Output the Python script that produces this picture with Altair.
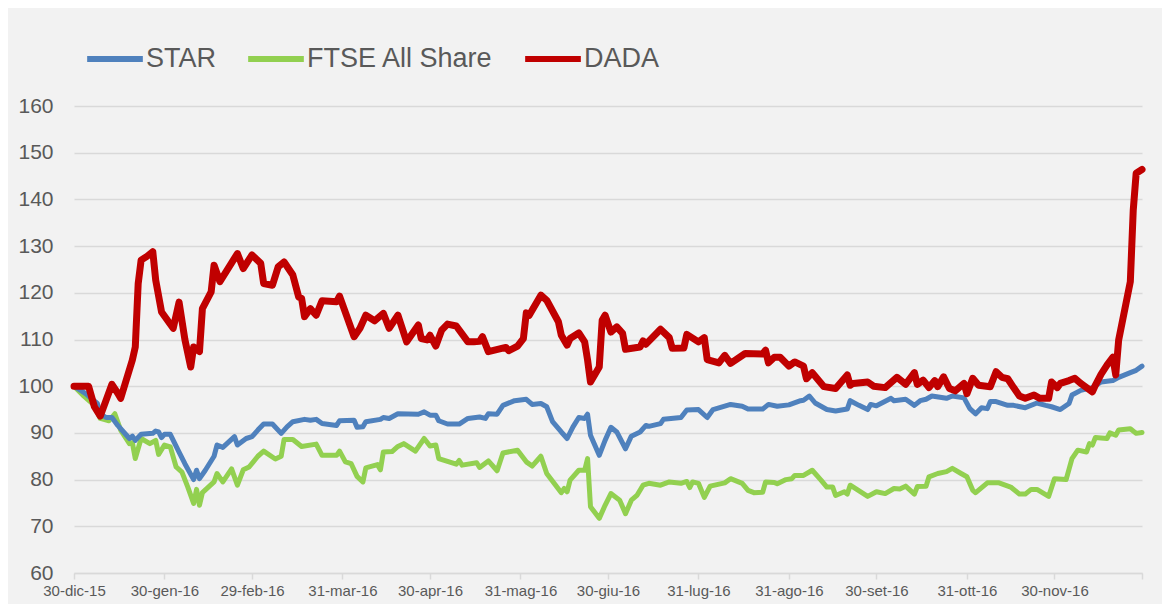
import altair as alt
import pandas as pd

# Series: (days since 30-dic-15, index value)
star = [(0,100),(4,98.4),(8,96.3),(9,94.1),(11,93.3),(13,93.3),(15,91.6),(17,90.2),(19,88.8),(20,89.3),(21,88.4),(23,89.7),(27,89.9),(28,90.4),(29,90.2),(30,89.0),(31,89.7),(33,89.7),(36,85.9),(38,83.4),(41,80.0),(42,82.0),(43,80.2),(45,82.0),(48,85.0),(49,87.4),(51,86.9),(55,89.2),(56,87.4),(59,88.8),(61,89.2),(63,90.6),(65,91.9),(68,91.9),(71,89.9),(73,91.3),(75,92.4),(79,92.9),(81,92.7),(83,92.9),(85,92.0),(90,91.6),(91,92.6),(96,92.7),(97,91.2),(99,91.3),(100,92.4),(105,92.9),(106,93.3),(108,93.1),(111,94.1),(118,94.0),(120,94.5),(122,93.8),(124,93.8),(125,92.6),(128,91.9),(132,91.9),(135,93.1),(139,93.4),(141,93.1),(142,94.1),(145,94.0),(147,95.9),(151,96.9),(155,97.2),(157,96.1),(160,96.3),(162,95.6),(164,92.4),(167,90.2),(169,88.8),(171,91.3),(173,93.3),(175,93.1),(176,94.0),(177,89.5),(180,85.2),(182,88.4),(184,91.2),(186,90.2),(189,86.6),(191,89.3),(194,90.2),(196,91.6),(197,91.4),(201,92.0),(202,92.9),(208,93.3),(210,94.9),(214,95.0),(217,93.3),(219,95.0),(225,96.1),(229,95.7),(231,95.1),(236,95.1),(238,96.1),(241,95.7),(245,96.0),(249,96.9),(250,97.0),(252,97.9),(254,96.4),(258,95.0),(261,94.7),(265,95.1),(266,96.9),(269,95.9),(272,95.0),(273,96.1),(275,95.8),(280,97.4),(281,96.9),(285,97.2),(288,95.9),(290,96.9),(292,97.2),(294,97.9),(299,97.4),(301,97.9),(305,97.5),(307,95.2),(309,94.1),(311,95.4),(313,95.2),(314,96.7),(316,96.7),(320,95.9),(322,95.9),(326,95.4),(330,96.4),(333,95.9),(335,95.6),(338,95.0),(341,96.3),(342,98.1),(345,99.1),(349,99.7),(352,100.9),(356,101.2),(358,101.9),(362,102.9),(364,103.4),(366,104.3)]

ftse = [(0,100),(3,98.1),(7,95.9),(9,93.1),(12,92.6),(14,94.1),(16,90.6),(19,87.7),(20,87.9),(21,84.5),(23,88.8),(26,87.7),(28,88.4),(29,85.4),(31,87.4),(33,87.0),(35,82.7),(37,81.6),(39,78.4),(41,74.9),(42,77.9),(43,74.5),(44,77.2),(48,79.5),(49,81.3),(51,79.5),(54,82.3),(56,78.8),(58,82.1),(60,82.7),(63,85.0),(65,86.1),(69,84.4),(71,85.0),(72,88.6),(75,88.6),(78,87.1),(83,87.6),(85,85.2),(90,85.2),(91,86.1),(93,83.8),(95,83.4),(97,80.7),(99,79.5),(100,82.5),(104,83.2),(105,82.1),(106,85.9),(109,86.0),(111,87.1),(113,87.7),(117,86.1),(120,88.8),(122,87.2),(124,87.4),(125,84.5),(131,83.3),(132,84.1),(133,83.1),(138,83.6),(139,82.6),(142,84.0),(145,81.9),(147,85.7),(152,86.3),(155,83.8),(157,82.9),(160,85.0),(162,81.3),(167,77.2),(168,78.1),(169,77.4),(170,79.9),(173,82.0),(175,82.0),(176,84.5),(177,74.2),(180,71.7),(182,74.5),(184,77.0),(187,75.6),(189,72.7),(191,75.6),(193,76.7),(195,78.8),(197,79.2),(201,78.8),(204,79.5),(208,79.2),(210,79.6),(211,78.3),(212,79.5),(214,79.2),(216,76.2),(218,78.6),(223,79.3),(225,80.2),(229,79.2),(231,77.7),(233,77.2),(236,77.3),(237,79.5),(240,79.4),(241,79.1),(244,80.0),(246,80.2),(247,80.9),(250,80.9),(253,82.0),(256,79.9),(258,78.4),(260,78.4),(261,76.6),(264,77.4),(265,76.9),(266,78.8),(272,76.4),(275,77.4),(278,77.0),(281,78.1),(283,78.0),(285,78.6),(288,76.9),(289,78.5),(292,78.6),(293,80.6),(296,81.3),(299,81.7),(301,82.4),(304,81.3),(306,80.6),(308,77.7),(309,77.2),(313,79.3),(317,79.3),(321,78.4),(324,76.9),(326,76.9),(328,77.9),(330,77.9),(334,76.4),(336,80.2),(340,80.0),(342,84.5),(344,86.3),(347,85.9),(348,87.7),(349,87.4),(350,89.0),(354,88.8),(355,90.0),(357,89.5),(358,90.6),(362,90.9),(364,89.9),(366,90.1)]

dada = [(0,100),(5,100),(7,95.6),(9,93.6),(13,100.4),(15,98.5),(16,97.4),(20,105.6),(21,108.4),(22,122),(23,127),(25,127.8),(27,128.8),(28,122.7),(30,115.9),(34,112.4),(36,118),(38,110),(40,104.1),(41,108.4),(43,107.4),(44,116.6),(47,120.2),(48,125.9),(50,122.4),(56,128.4),(58,125.2),(61,128.1),(64,126.3),(65,122),(68,121.6),(70,125.6),(72,126.6),(75,123.8),(77,119.1),(78,118.8),(79,114.9),(81,116.6),(83,115.2),(85,118.3),(90,118.1),(91,119.3),(96,110.6),(98,112.4),(100,115.2),(103,114),(106,115.6),(108,112.4),(111,115.2),(114,109.5),(118,113.1),(119,110.2),(121,109.9),(122,110.9),(124,108.6),(126,112),(128,113.3),(131,112.9),(135,109.5),(137,109.5),(139,109.6),(140,110.6),(142,107.4),(148,108.3),(149,107.6),(152,108.6),(154,110.2),(155,115.7),(156,115.2),(160,119.5),(162,118.4),(166,113.8),(167,110.9),(169,108.8),(170,110.2),(173,111.4),(175,109.5),(176,105.6),(177,100.9),(180,104.1),(181,114.1),(182,115.2),(184,111.6),(186,112.7),(188,111.3),(189,107.9),(194,108.4),(195,109.7),(196,109),(201,112.2),(204,110.4),(205,108.1),(209,108.2),(210,111.1),(214,109.5),(216,110.4),(217,105.7),(221,105),(223,106.6),(225,104.9),(230,107),(236,106.9),(237,107.7),(238,105),(240,106.2),(242,106.2),(245,104.3),(247,105.2),(250,104.3),(251,101.6),(253,102.9),(257,99.9),(261,99.5),(265,102.4),(266,100.2),(267,100.6),(272,100.9),(274,100),(278,99.7),(282,101.9),(285,100.4),(288,102.9),(289,100.4),(291,101.3),(293,99.7),(295,101.2),(296,99.9),(298,102),(300,99.5),(302,99),(305,100.6),(306,98.4),(308,101.7),(310,100.2),(314,99.9),(316,103.1),(318,101.9),(320,101.6),(322,99.7),(324,97.9),(326,97.4),(329,98.1),(331,97.4),(334,97.4),(335,100.9),(337,99.7),(338,100.6),(341,101.2),(343,101.7),(345,100.6),(349,98.8),(350,100.2),(352,102.6),(354,104.5),(356,106.2),(357,102.4),(358,109.9),(362,122.4),(363,137.7),(364,145.6),(366,146.4)]

series_names = ["STAR", "FTSE All Share", "DADA"]
series_colors = ["#4f81bd", "#92d050", "#c00000"]
month_labels = ["gen", "feb", "mar", "apr", "mag", "giu", "lug", "ago", "set", "ott", "nov", "dic"]
tick_dates = [(2015, 12, 30), (2016, 1, 30), (2016, 2, 29), (2016, 3, 31), (2016, 4, 30),
              (2016, 5, 31), (2016, 6, 30), (2016, 7, 31), (2016, 8, 31), (2016, 9, 30),
              (2016, 10, 31), (2016, 11, 30), (2016, 12, 30)]
y_ticks = [60, 70, 80, 90, 100, 110, 120, 130, 140, 150, 160]

start = pd.Timestamp("2015-12-30")
rows = []
for name, pts in zip(series_names, [star, ftse, dada]):
    for d, v in pts:
        rows.append({"serie": name,
                     "data": (start + pd.Timedelta(days=d)).strftime("%Y-%m-%d"),
                     "valore": v})
df = pd.DataFrame(rows)

FONT = "Liberation Sans"
TXT = "#595959"
GRID = "#d9d9d9"

months_js = "[" + ",".join("'%s'" % m for m in month_labels) + "]"
label_expr = ("(utcyear(datum.value) == 2016 && utcmonth(datum.value) == 11) ? '' : "
              "(utcdate(datum.value) + '-' + " + months_js + "[utcmonth(datum.value)] + '-' + "
              "utcFormat(datum.value, '%y'))")

x_enc = alt.X(
    "data:T",
    scale=alt.Scale(
        type="utc",
        domain=[alt.DateTime(year=2015, month=12, date=30, utc=True),
                alt.DateTime(year=2016, month=12, date=30, utc=True)],
        nice=False,
    ),
    axis=alt.Axis(
        values=[alt.DateTime(year=y, month=m, date=d, utc=True) for (y, m, d) in tick_dates],
        labelExpr=label_expr,
        title=None,
        grid=False,
        domainColor=GRID,
        domainWidth=1.5,
        tickColor=GRID,
        tickWidth=1.5,
        tickSize=6,
        labelFont=FONT,
        labelFontSize=15,
        labelColor=TXT,
        labelPadding=4,
        labelOverlap=False,
        labelFlush=False,
    ),
)

y_enc = alt.Y(
    "valore:Q",
    scale=alt.Scale(domain=[60, 160], nice=False, zero=False),
    axis=alt.Axis(
        values=y_ticks,
        title=None,
        domain=False,
        ticks=False,
        grid=True,
        gridColor=GRID,
        gridWidth=1.5,
        labelFont=FONT,
        labelFontSize=21,
        labelColor=TXT,
        labelPadding=21,
    ),
)

color_enc = alt.Color(
    "serie:N",
    scale=alt.Scale(domain=series_names, range=series_colors),
    legend=alt.Legend(
        title=None,
        orient="none",
        direction="horizontal",
        legendX=10,
        legendY=-78,
        symbolType="stroke",
        symbolSize=3100,
        symbolStrokeWidth=6,
        labelFont=FONT,
        labelFontSize=27,
        labelColor=TXT,
        labelOffset=0,
        labelLimit=0,
        columnPadding=19,
        padding=0,
    ),
)

base = alt.Chart(df)
widths = {"STAR": 5, "FTSE All Share": 5, "DADA": 7}
layers = []
for name in ["FTSE All Share", "STAR", "DADA"]:
    layers.append(
        base.transform_filter(alt.datum.serie == name)
        .mark_line(strokeWidth=widths[name], strokeCap="round", strokeJoin="round")
        .encode(x=x_enc, y=y_enc, color=color_enc)
    )

chart = (
    alt.layer(*layers)
    .properties(
        width=1068,
        height=467,
        background="#f2f2f2",
        padding={"left": 66, "top": 98, "right": 20, "bottom": 31},
        autosize=alt.AutoSizeParams(type="none"),
    )
    .configure_view(stroke=None)
)

chart.save("out.html", embed_options={"renderer": "svg", "actions": False})
